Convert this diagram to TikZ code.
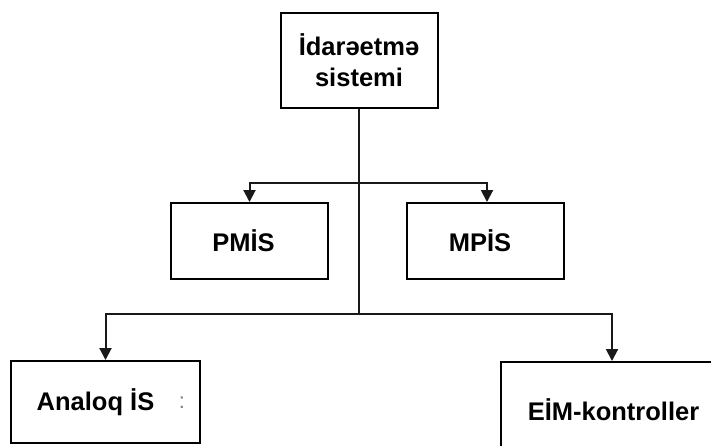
\documentclass[tikz,border=0pt]{standalone}
\usepackage{fontspec}
\setmainfont{Liberation Sans}
\usetikzlibrary{arrows.meta}
\begin{document}
\begin{tikzpicture}[x=1pt,y=-1pt,
  box/.style={draw=black,line width=2pt,rectangle,inner sep=0pt,align=center,
    font=\fontsize{25.5}{31}\selectfont\bfseries},
  conn/.style={draw=black!90,line width=2pt},
  arr/.style={conn,-{Triangle[length=12pt,width=12pt]}}]
\clip (0,0) rectangle (711,445);
\fill[white] (0,0) rectangle (711,445);
\node[box,minimum width=157pt,minimum height=95pt] (top) at (359,60.5) {İdarəetmə\\sistemi};
\node[box,minimum width=157pt,minimum height=76pt] (pmis) at (249.5,241) {\hspace*{-12pt}PMİS};
\node[box,minimum width=157pt,minimum height=76pt] (mpis) at (485.5,241) {\hspace*{-11pt}MPİS};
\node[box,minimum width=189pt,minimum height=82pt] (analoq) at (105.5,402) {\hspace*{-20pt}Analoq İS};
\node[text=black!50,font=\fontsize{22}{22}\selectfont] (colon) at (182,403) {:};
\node[box,minimum width=229pt,minimum height=96pt] (eim) at (615.5,410) {\hspace*{-4pt}EİM-kontroller};
\coordinate (j1) at (359,183);
\coordinate (j2) at (359,314);
\draw[conn] (top.south) -- (j2);
\draw[arr] (j1) -| (pmis.north);
\draw[arr] (j1) -| ([xshift=1.5pt]mpis.north);
\draw[arr] (j2) -| (analoq.north);
\draw[arr] (j2) -| ([xshift=-3.5pt]eim.north);
\end{tikzpicture}
\end{document}
